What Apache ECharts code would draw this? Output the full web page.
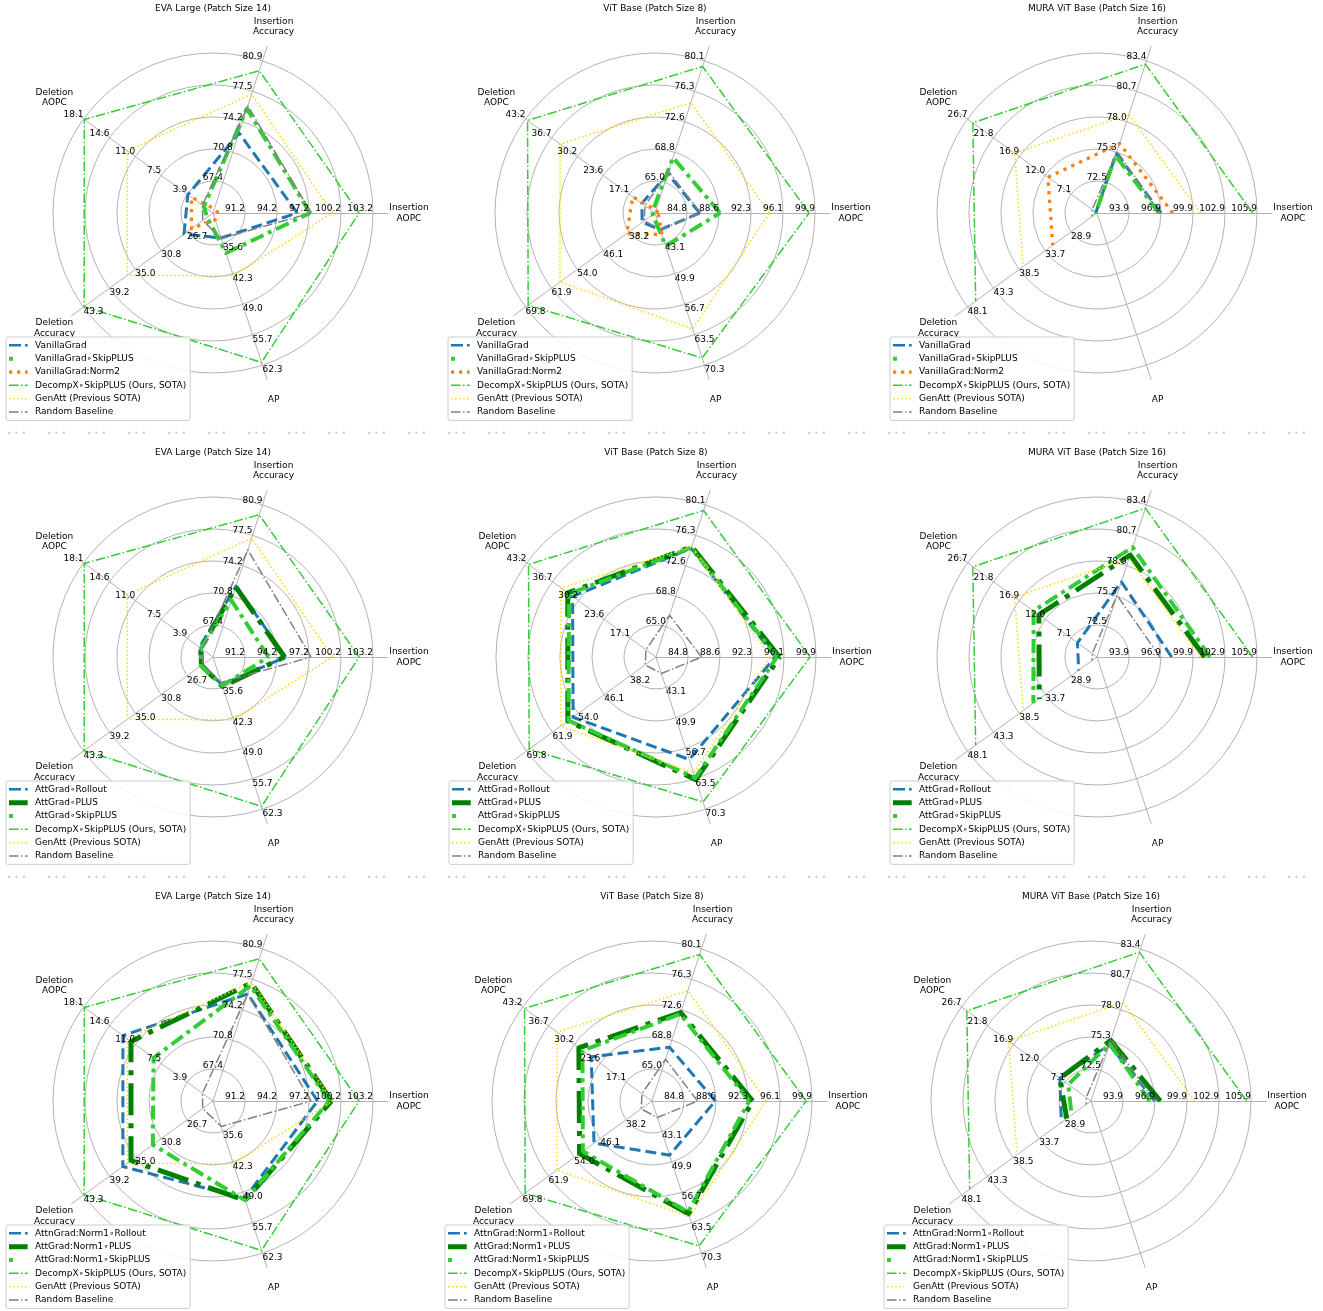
<!DOCTYPE html>
<html>
<head>
<meta charset="utf-8">
<script src="https://cdn.jsdelivr.net/npm/echarts@6/dist/echarts.min.js"></script>
<style>
  html, body { margin: 0; padding: 0; background: #ffffff; }
  #chart { width: 1323px; height: 1311px; }
</style>
</head>
<body>
<div id="chart"></div>
<script>
// Axis order around each radar (counter-clockwise from the right)
const AXIS_NAMES = ['Insertion\nAOPC', 'Insertion\nAccuracy', 'Deletion\nAOPC', 'Deletion\nAccuracy', 'AP'];
const MODEL_TITLES = ['EVA Large (Patch Size 14)', 'ViT Base (Patch Size 8)', 'MURA ViT Base (Patch Size 16)'];

// Ring tick labels per axis (rings 1..5)
const evaTicks = [
  [91.2, 94.2, 97.2, 100.2, 103.2],
  [67.4, 70.8, 74.2, 77.5, 80.9],
  [3.9, 7.5, 11.0, 14.6, 18.1],
  [26.7, 30.8, 35.0, 39.2, 43.3],
  [35.6, 42.3, 49.0, 55.7, 62.3]
];
const vitTicks = [
  [84.8, 88.6, 92.3, 96.1, 99.9],
  [65.0, 68.8, 72.6, 76.3, 80.1],
  [17.1, 23.6, 30.2, 36.7, 43.2],
  [38.2, 46.1, 54.0, 61.9, 69.8],
  [43.1, 49.9, 56.7, 63.5, 70.3]
];
// AP is not reported for MURA: the axis carries no ticks
const muraTicks = [
  [93.9, 96.9, 99.9, 102.9, 105.9],
  [72.5, 75.3, 78.0, 80.7, 83.4],
  [7.1, 12.0, 16.9, 21.8, 26.7],
  [28.9, 33.7, 38.5, 43.3, 48.1],
  []
];

// Method names per row
const ROW1_METHODS = ['VanillaGrad', 'VanillaGrad\u2218SkipPLUS', 'VanillaGrad:Norm2'];
const ROW2_METHODS = ['AttGrad\u2218Rollout', 'AttGrad\u2218PLUS', 'AttGrad\u2218SkipPLUS'];
const ROW3_METHODS = ['AttnGrad:Norm1\u2218Rollout', 'AttGrad:Norm1\u2218PLUS', 'AttGrad:Norm1\u2218SkipPLUS'];
const SHARED_METHODS = ['DecompX\u2218SkipPLUS (Ours, SOTA)', 'GenAtt (Previous SOTA)', 'Random Baseline'];

// Scores: [Insertion AOPC, Insertion Accuracy, Deletion AOPC, Deletion Accuracy, AP]
const evaVanillaGrad   = [96.1, 72.9, 3.8, 27.2, 34.4];
const evaVanillaSkip   = [97.3, 75.6, 1.6, 23.5, 37.7];
const evaVanillaNorm2  = [88.7, 64.5, 3.3, 26.0, 30.4];
const evaAttRollout    = [95.0, 71.9, 2.2, 24.4, 35.0];
const evaAttPlus       = [94.9, 71.8, 2.0, 24.4, 35.4];
const evaAttSkip       = [93.4, 70.3, 2.0, 24.5, 35.2];
const evaNorm1Rollout  = [98.0, 75.9, 12.7, 37.0, 50.3];
const evaNorm1Plus     = [99.3, 77.1, 11.6, 35.7, 50.7];
const evaNorm1Skip     = [99.1, 76.8, 8.5, 32.2, 50.7];
const evaDecompX       = [101.9, 79.8, 18.0, 43.2, 61.7];
const evaGenAtt        = [99.4, 77.2, 12.1, 36.3, 42.7];
const evaRandom        = [97.4, 75.9, 1.8, 24.2, 34.5];

const vitVanillaGrad   = [86.3, 66.1, 13.9, 34.2, 40.0];
const vitVanillaSkip   = [88.7, 68.1, 11.2, 31.0, 43.7];
const vitVanillaNorm2  = [81.4, 61.6, 16.2, 38.9, 41.1];
const vitAttRollout    = [95.1, 74.7, 31.6, 55.6, 59.2];
const vitAttPlus       = [95.6, 74.9, 32.8, 57.2, 63.7];
const vitAttSkip       = [95.3, 74.8, 32.5, 57.0, 63.3];
const vitNorm1Rollout  = [88.5, 67.9, 25.9, 48.0, 48.4];
const vitNorm1Plus     = [92.9, 72.2, 29.0, 52.4, 61.5];
const vitNorm1Skip     = [92.5, 72.0, 28.1, 51.4, 61.1];
const vitDecompX       = [99.2, 79.4, 42.7, 69.0, 68.7];
const vitGenAtt        = [94.5, 74.9, 34.5, 59.3, 62.2];
const vitRandom        = [86.4, 66.4, 13.1, 33.6, 40.0];

// MURA: [Insertion AOPC, Insertion Accuracy, Deletion AOPC, Deletion Accuracy] (no AP)
const muraVanillaGrad  = [96.9, 75.1, 2.4, 24.3];
const muraVanillaSkip  = [96.7, 74.9, 2.4, 24.3];
const muraVanillaNorm2 = [98.0, 76.0, 11.5, 32.3];
const muraAttRollout   = [97.9, 76.5, 5.9, 27.5];
const muraAttPlus      = [101.0, 78.9, 13.2, 34.8];
const muraAttSkip      = [101.5, 79.6, 14.2, 35.9];
const muraNorm1Rollout = [96.9, 74.8, 8.1, 29.6];
const muraNorm1Plus    = [97.4, 75.2, 8.1, 28.6];
const muraNorm1Skip    = [96.4, 74.9, 6.5, 27.7];
const muraDecompX      = [105.5, 83.1, 25.7, 46.6];
const muraGenAtt       = [100.6, 78.6, 17.8, 37.8];
const muraRandom       = [96.8, 75.3, 3.1, 25.0];

// ---- styling ----
const FONT = 'DejaVu Sans';
const GRID_COLOR = '#b3b3b3';

const LINE_STYLES = {
  rollout: { color: '#1f77b4', width: 3,   type: [11, 5] },
  skip:    { color: '#32cd32', width: 4,   type: [14, 5, 4, 5] },
  norm2:   { color: '#ff7f0e', width: 3.3, type: [3.3, 5.3] },
  plus:    { color: '#008000', width: 5,   type: [32, 8, 5, 8] },
  decompx: { color: '#32cd32', width: 1.5, type: [9.6, 2.4, 1.5, 2.4] },
  genatt:  { color: '#ffd700', width: 1.5, type: [1.5, 2.5] },
  random:  { color: '#808080', width: 1.5, type: [9.6, 2.4, 1.5, 2.4] }
};

// Legend handles drawn as dash samples inside a 21 x 8 box
const BOX = 'M0 0h0.01v0.01h-0.01Z M20.99 7.99h0.01v0.01h-0.01Z ';
const LEGEND_ICONS = {
  rollout: 'path://' + BOX + 'M0 2.75h12v2.5h-12Z M16 2.75h2.7v2.5h-2.7Z',
  skip:    'path://' + BOX + 'M0 2h4v4h-4Z',
  norm2:   'path://' + BOX + 'M0 2.35h3.3v3.3h-3.3Z M8 2.35h3.3v3.3h-3.3Z M16 2.35h2.7v3.3h-2.7Z',
  plus:    'path://' + BOX + 'M0 1.5h18.7v5h-18.7Z',
  decompx: 'path://' + BOX + 'M0 3.25h9.6v1.5h-9.6Z M12 3.25h1.5v1.5h-1.5Z M15.9 3.25h2.8v1.5h-2.8Z',
  genatt:  'path://' + BOX + 'M0 3.25h1.5v1.5h-1.5Z M4 3.25h1.5v1.5h-1.5Z M8 3.25h1.5v1.5h-1.5Z M12 3.25h1.5v1.5h-1.5Z M16 3.25h1.5v1.5h-1.5Z',
  random:  'path://' + BOX + 'M0 3.25h9.6v1.5h-9.6Z M12 3.25h1.5v1.5h-1.5Z M15.9 3.25h2.8v1.5h-2.8Z'
};

function panel(center, title, ticks, methods, values, keys) {
  return { center, title, ticks, methods, values, keys };
}
const ROW1_KEYS = ['rollout', 'skip', 'norm2', 'decompx', 'genatt', 'random'];
const ROW23_KEYS = ['rollout', 'plus', 'skip', 'decompx', 'genatt', 'random'];

const PANELS = [
  panel([213, 213], MODEL_TITLES[0], evaTicks, ROW1_METHODS.concat(SHARED_METHODS),
    [evaVanillaGrad, evaVanillaSkip, evaVanillaNorm2, evaDecompX, evaGenAtt, evaRandom], ROW1_KEYS),
  panel([655, 213], MODEL_TITLES[1], vitTicks, ROW1_METHODS.concat(SHARED_METHODS),
    [vitVanillaGrad, vitVanillaSkip, vitVanillaNorm2, vitDecompX, vitGenAtt, vitRandom], ROW1_KEYS),
  panel([1097, 213], MODEL_TITLES[2], muraTicks, ROW1_METHODS.concat(SHARED_METHODS),
    [muraVanillaGrad, muraVanillaSkip, muraVanillaNorm2, muraDecompX, muraGenAtt, muraRandom], ROW1_KEYS),

  panel([213, 657], MODEL_TITLES[0], evaTicks, ROW2_METHODS.concat(SHARED_METHODS),
    [evaAttRollout, evaAttPlus, evaAttSkip, evaDecompX, evaGenAtt, evaRandom], ROW23_KEYS),
  panel([656, 657], MODEL_TITLES[1], vitTicks, ROW2_METHODS.concat(SHARED_METHODS),
    [vitAttRollout, vitAttPlus, vitAttSkip, vitDecompX, vitGenAtt, vitRandom], ROW23_KEYS),
  panel([1097, 657], MODEL_TITLES[2], muraTicks, ROW2_METHODS.concat(SHARED_METHODS),
    [muraAttRollout, muraAttPlus, muraAttSkip, muraDecompX, muraGenAtt, muraRandom], ROW23_KEYS),

  panel([213, 1101], MODEL_TITLES[0], evaTicks, ROW3_METHODS.concat(SHARED_METHODS),
    [evaNorm1Rollout, evaNorm1Plus, evaNorm1Skip, evaDecompX, evaGenAtt, evaRandom], ROW23_KEYS),
  panel([652, 1101], MODEL_TITLES[1], vitTicks, ROW3_METHODS.concat(SHARED_METHODS),
    [vitNorm1Rollout, vitNorm1Plus, vitNorm1Skip, vitDecompX, vitGenAtt, vitRandom], ROW23_KEYS),
  panel([1091, 1101], MODEL_TITLES[2], muraTicks, ROW3_METHODS.concat(SHARED_METHODS),
    [muraNorm1Rollout, muraNorm1Plus, muraNorm1Skip, muraDecompX, muraGenAtt, muraRandom], ROW23_KEYS)
];

// Each axis spans one ring step below its first tick up to its last tick
function axisRange(t) {
  const step = (t[4] - t[0]) / 4;
  return { min: t[0] - step, max: t[4], step: step };
}

function indicatorsFor(ticks, withLabels) {
  return AXIS_NAMES.map(function (name, i) {
    const t = ticks[i];
    if (!t.length) {
      return { name: name, min: 0, max: 1, axisLabel: { show: false } };
    }
    const r = axisRange(t);
    const lowerSide = i >= 3;
    return {
      name: name,
      min: r.min,
      max: r.max,
      axisLabel: {
        show: withLabels,
        align: lowerSide ? 'left' : 'right',
        verticalAlign: lowerSide ? 'top' : 'bottom',
        formatter: function (v) {
          const k = Math.round((v - r.min) / r.step);
          return k >= 1 && k <= 5 ? t[k - 1].toFixed(1) : '';
        }
      }
    };
  });
}

const radars = [];
const series = [];
const legends = [];
const titles = [];
const polars = [];
const angleAxes = [];
const radiusAxes = [];

const hiddenAxisParts = {
  axisLine: { show: false }, axisTick: { show: false }, axisLabel: { show: false },
  splitLine: { show: false }, splitArea: { show: false }
};

PANELS.forEach(function (p, pi) {
  const ringRadar = radars.length;
  // rings
  radars.push({
    center: p.center, radius: 160, startAngle: 0, shape: 'circle', splitNumber: 5,
    indicator: indicatorsFor(p.ticks, false),
    axisName: { show: false },
    axisLine: { show: false }, axisTick: { show: false }, axisLabel: { show: false },
    splitArea: { show: false },
    splitLine: { lineStyle: { color: GRID_COLOR, width: 1 } }
  });
  // spokes (slightly longer than the outer ring) + axis names
  radars.push({
    center: p.center, radius: 175, startAngle: 0, shape: 'circle',
    indicator: AXIS_NAMES.map(function (n) { return { name: n, min: 0, max: 1 }; }),
    nameGap: 21,
    axisName: {
      color: '#000', fontSize: 9, fontFamily: FONT, lineHeight: 10.5,
      align: 'center', verticalAlign: 'middle'
    },
    axisLine: { lineStyle: { color: GRID_COLOR, width: 1 } },
    axisTick: { show: false }, axisLabel: { show: false },
    splitLine: { show: false }, splitArea: { show: false }
  });
  // ring tick labels, drawn above the lines
  radars.push({
    z: 10,
    center: p.center, radius: 160, startAngle: 0, shape: 'circle', splitNumber: 5,
    indicator: indicatorsFor(p.ticks, true),
    axisName: { show: false },
    axisLine: { show: false }, axisTick: { show: false },
    splitArea: { show: false }, splitLine: { show: false },
    axisLabel: { show: true, margin: 0, color: '#000', fontSize: 9, fontFamily: FONT }
  });

  const noAP = p.ticks[4].length === 0;
  let polarIndex = -1;
  if (noAP) {
    // open outlines (AP missing) are traced in a polar system sharing the radar's centre
    polarIndex = polars.length;
    polars.push({ center: p.center, radius: 160 });
    angleAxes.push(Object.assign({
      polarIndex: polarIndex, type: 'value', min: 0, max: 360, startAngle: 0, clockwise: false
    }, hiddenAxisParts));
    radiusAxes.push(Object.assign({ polarIndex: polarIndex, type: 'value', min: 0, max: 1 }, hiddenAxisParts));
  }

  p.methods.forEach(function (m, si) {
    const st = LINE_STYLES[p.keys[si]];
    const lineStyle = { color: st.color, width: st.width, type: st.type, cap: 'butt', join: 'round' };
    if (noAP) {
      const pts = p.values[si].map(function (v, ai) {
        const r = axisRange(p.ticks[ai]);
        return [(v - r.min) / (r.max - r.min), ai * 360 / AXIS_NAMES.length];
      });
      series.push({
        type: 'line', name: m, coordinateSystem: 'polar', polarIndex: polarIndex,
        symbol: 'none', showSymbol: false, silent: true, clip: false,
        z: 3 + si * 0.01,
        itemStyle: { color: st.color }, lineStyle: lineStyle,
        data: pts
      });
    } else {
      series.push({
        type: 'radar', name: m, radarIndex: ringRadar,
        symbol: 'none', silent: true,
        z: 3 + si * 0.01,
        itemStyle: { color: st.color }, lineStyle: lineStyle,
        data: [{ name: m, value: p.values[si] }]
      });
    }
  });

  legends.push({
    orient: 'vertical',
    left: p.center[0] - 207,
    top: p.center[1] + 124,
    itemWidth: 21,
    itemHeight: 8,
    itemGap: 0,
    padding: [1.7, 4, 1.7, 3],
    borderColor: '#cccccc',
    borderWidth: 1,
    borderRadius: 2,
    backgroundColor: 'rgba(255,255,255,0.85)',
    selectedMode: false,
    z: 12,
    itemStyle: { borderWidth: 0 },
    lineStyle: { width: 0 },
    textStyle: { fontSize: 9, fontFamily: FONT, color: '#000', lineHeight: 13.33 },
    data: p.methods.map(function (m, si) { return { name: m, icon: LEGEND_ICONS[p.keys[si]] }; })
  });

  titles.push({
    text: p.title,
    left: p.center[0],
    top: p.center[1] - 209,
    textAlign: 'center',
    padding: 0,
    textStyle: { fontSize: 9, fontWeight: 'normal', color: '#000', fontFamily: FONT }
  });
});

// dotted row separators
function separator(y) {
  return {
    type: 'line',
    silent: true,
    shape: { x1: 8, y1: y, x2: 1312, y2: y },
    style: { stroke: '#cccccc', lineWidth: 2, lineDash: [2, 5.5, 2, 5.5, 2, 23] }
  };
}

const chart = echarts.init(document.getElementById('chart'), null, { renderer: 'canvas' });
chart.setOption({
  animation: false,
  backgroundColor: '#ffffff',
  title: titles,
  radar: radars,
  polar: polars,
  angleAxis: angleAxes,
  radiusAxis: radiusAxes,
  legend: legends,
  series: series,
  graphic: [separator(432.7), separator(876.7)]
});
</script>
</body>
</html>
